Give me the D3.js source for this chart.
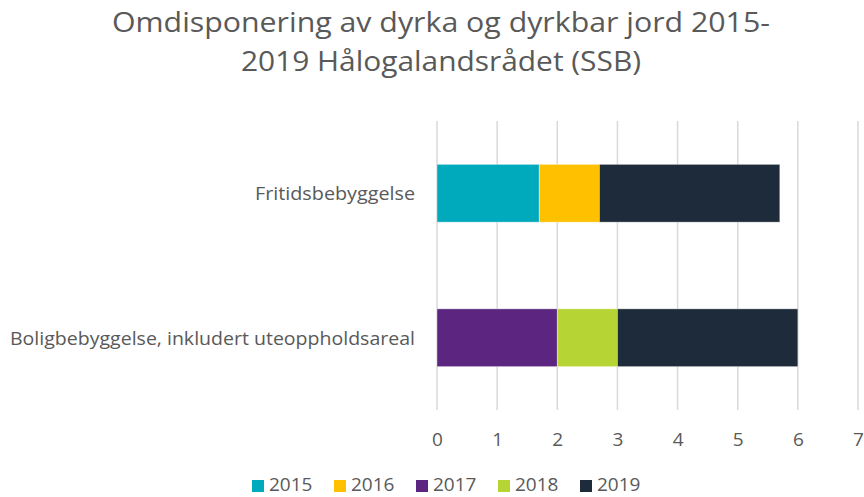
<!DOCTYPE html>
<html>
<head>
<meta charset="utf-8">
<script src="https://cdn.jsdelivr.net/npm/d3@7"></script>
<style>
  html, body { margin: 0; padding: 0; background: #fff; }
  svg { display: block; font-family: "Open Sans", "Noto Sans", sans-serif; }
</style>
</head>
<body>
<svg id="chart" width="864" height="497"></svg>
<script>
// Land use of cultivated and cultivable soil, by year (stacked)
const categories = ["Fritidsbebyggelse", "Boligbebyggelse, inkludert uteoppholdsareal"];
const years = ["2015", "2016", "2017", "2018", "2019"];
const v2015 = [1.7, 0];
const v2016 = [1.0, 0];
const v2017 = [0, 2.0];
const v2018 = [0, 1.0];
const v2019 = [3.0, 3.0];
const xTicks = [0, 1, 2, 3, 4, 5, 6, 7];
const colors = ["#00AABD", "#FFC000", "#5C2680", "#B6D433", "#1D2B3A"];
const titleLines = ["Omdisponering av dyrka og dyrkbar jord 2015-", "2019 Hålogalandsrådet (SSB)"];

const series = [v2015, v2016, v2017, v2018, v2019];
const rows = categories.map((c, i) => {
  const r = { category: c };
  years.forEach((y, k) => { r[y] = series[k][i]; });
  return r;
});

const svg = d3.select("#chart");
const textColor = "#595959";

const x = d3.scaleLinear().domain([0, 7]).range([437, 858]);
const y = d3.scaleBand().domain(categories).range([121, 410])
  .paddingInner(0.6).paddingOuter(0.3);

// Title
svg.append("g").selectAll("text").data(titleLines).join("text")
  .attr("x", 441)
  .attr("y", (d, i) => 32 + i * 39)
  .attr("text-anchor", "middle")
  .attr("font-size", 28)
  .attr("fill", textColor)
  .attr("textLength", (d, i) => i === 0 ? 658 : 400)
  .attr("lengthAdjust", "spacingAndGlyphs")
  .text(d => d);

// Vertical gridlines
svg.append("g").selectAll("line").data(xTicks).join("line")
  .attr("x1", d => x(d)).attr("x2", d => x(d))
  .attr("y1", 121).attr("y2", 410)
  .attr("stroke", "#D9D9D9").attr("stroke-width", 1.5);

// Stacked bars
const stack = d3.stack().keys(years)(rows);
svg.append("g").selectAll("g").data(stack).join("g")
  .attr("fill", (d, i) => colors[i])
  .selectAll("rect").data(d => d).join("rect")
  .attr("x", d => x(d[0]))
  .attr("width", d => x(d[1]) - x(d[0]))
  .attr("y", d => y(d.data.category))
  .attr("height", y.bandwidth())
  .attr("stroke", d => (d[1] - d[0]) > 0 ? "rgba(255,255,255,0.5)" : "none")
  .attr("stroke-width", 0.75);

// Category labels
svg.append("g").selectAll("text").data(categories).join("text")
  .attr("x", 415)
  .attr("y", d => y(d) + y.bandwidth() / 2 + 7)
  .attr("text-anchor", "end")
  .attr("font-size", 19)
  .attr("fill", textColor)
  .attr("textLength", (d, i) => i === 0 ? 160 : 405)
  .attr("lengthAdjust", "spacingAndGlyphs")
  .text(d => d);

// X axis tick labels
const xAxis = d3.axisBottom(x).tickValues(xTicks).tickSize(0).tickPadding(0).tickFormat(d3.format("d"));
const ax = svg.append("g").attr("transform", "translate(0,432)").call(xAxis);
ax.select(".domain").remove();
ax.selectAll("text")
  .attr("font-size", 19)
  .attr("font-family", "\"Open Sans\", sans-serif")
  .attr("fill", textColor)
  .attr("dy", "0.71em");

// Legend
const legend = svg.append("g").selectAll("g").data(years).join("g")
  .attr("transform", (d, i) => `translate(${252 + i * 82},0)`);
legend.append("rect")
  .attr("x", 0).attr("y", 480).attr("width", 12).attr("height", 12)
  .attr("fill", (d, i) => colors[i]);
legend.append("text")
  .attr("x", 17).attr("y", 491)
  .attr("font-size", 19)
  .attr("fill", textColor)
  .text(d => d);
</script>
</body>
</html>
